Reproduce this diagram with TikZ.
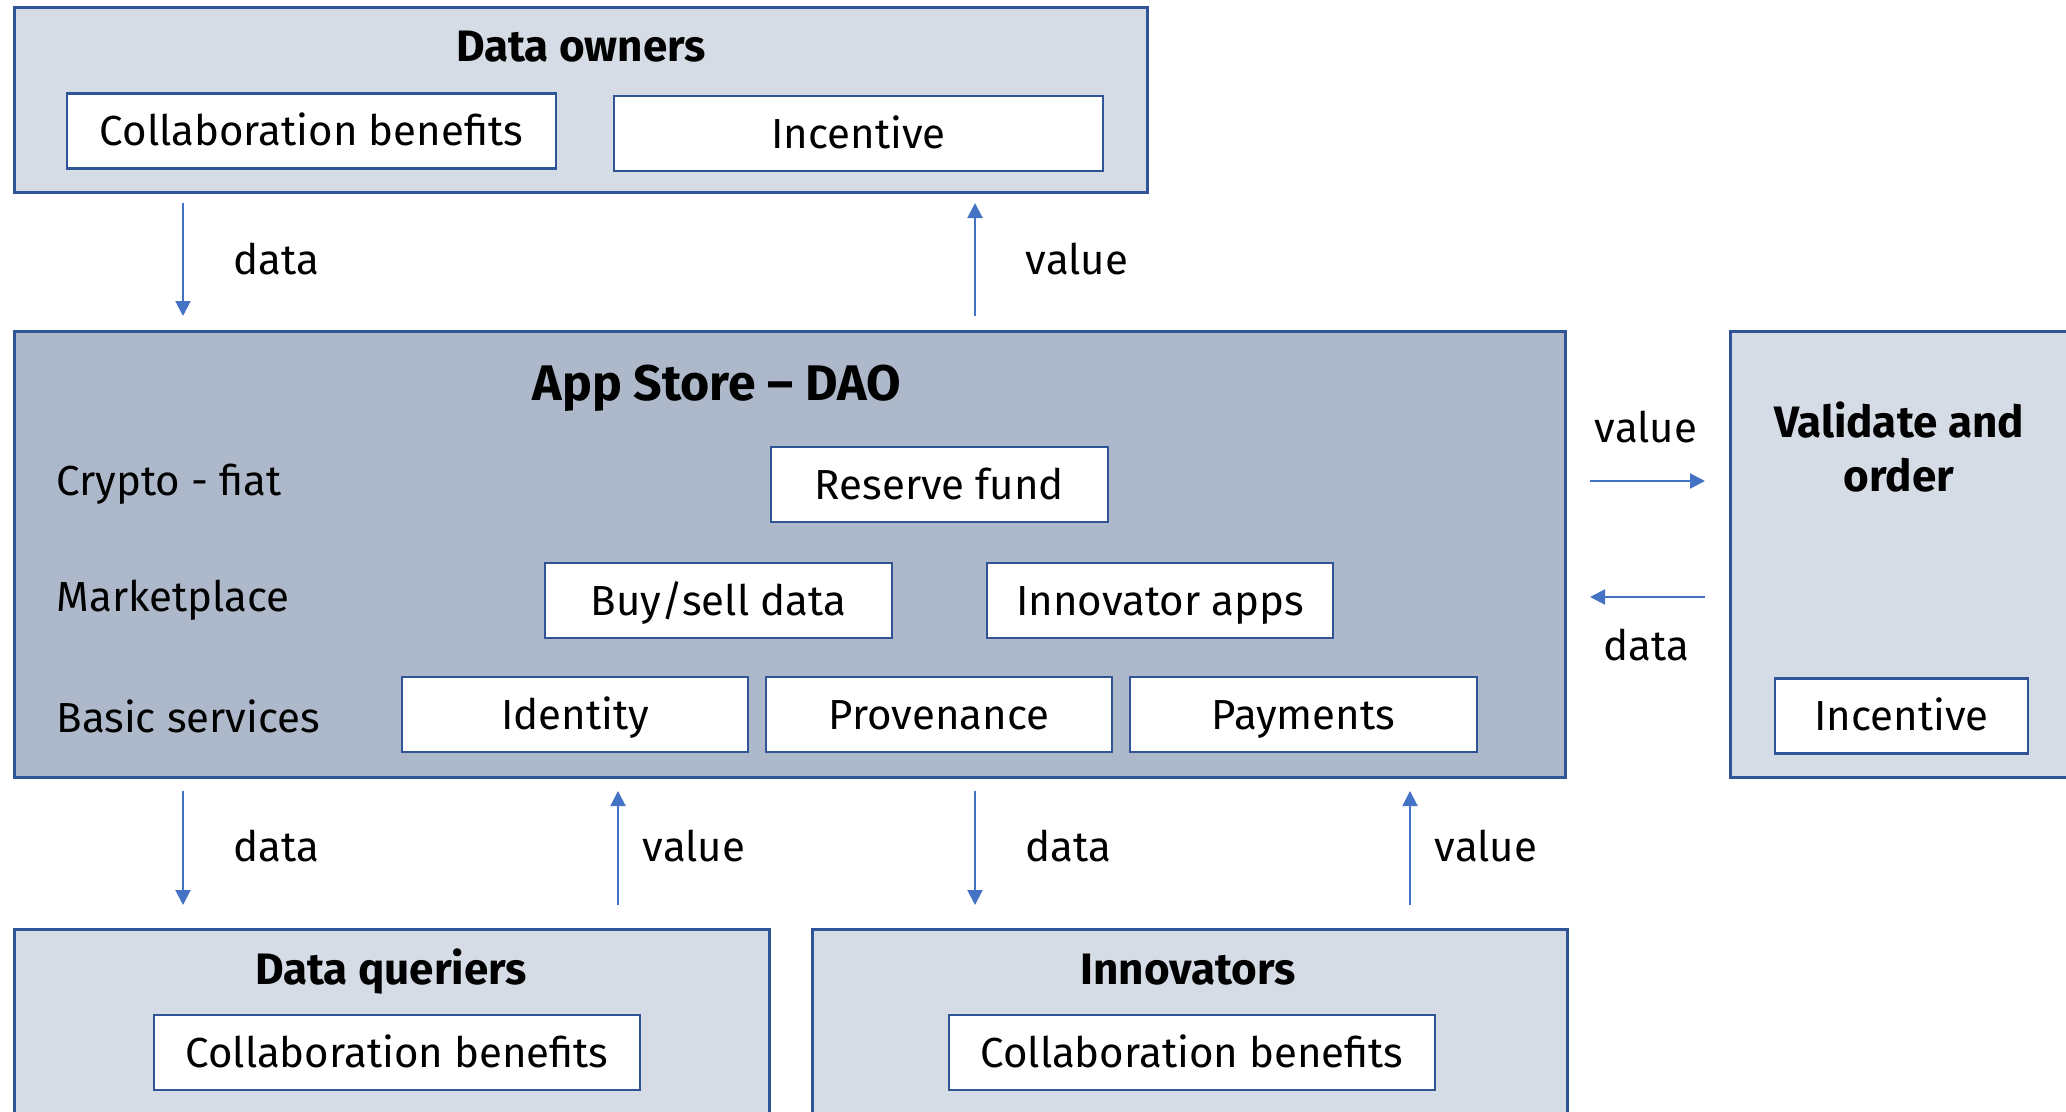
\documentclass[tikz,border=0pt]{standalone}
\usepackage{fontspec}
\setmainfont{Fira Sans}
\usetikzlibrary{arrows.meta}
\definecolor{paleblue}{HTML}{D6DCE5}
\definecolor{greyblue}{HTML}{ADB9CA}
\definecolor{edgeblue}{HTML}{2F5597}
\definecolor{arrowblue}{HTML}{4472C4}
\tikzset{
  group/.style={draw=edgeblue, line width=3pt, fill=paleblue, rectangle, inner sep=0pt},
  hub/.style={group, fill=greyblue},
  item/.style={draw=edgeblue, line width=2.5pt, fill=white, rectangle, inner sep=0pt,
    minimum height=75pt, text height=34pt, text depth=5pt,
    font=\fontsize{42}{50}\selectfont},
  title/.style={font=\fontsize{44}{54}\selectfont\bfseries, align=center},
  plain/.style={font=\fontsize{42}{50}\selectfont, text height=34pt, text depth=5pt},
  flow/.style={draw=arrowblue, line width=2pt, -{Triangle[length=15pt,width=15pt]}}
}
\begin{document}
\begin{tikzpicture}[x=1pt,y=-1pt]
\useasboundingbox (0,0) rectangle (2066,1111);

% outer groups
\node[group, minimum width=1133pt, minimum height=185pt] (owners) at (580.5,99.5) {};
\node[hub, minimum width=1551pt, minimum height=446pt] (store) at (789.5,554) {};
\node[group, minimum width=360pt, minimum height=446pt] (validate) at (1910,554) {};
\node[group, minimum width=755pt, minimum height=201pt] (queriers) at (391.5,1029.5) {};
\node[group, minimum width=755pt, minimum height=201pt] (innovators) at (1189.5,1029.5) {};

% Data owners
\node[title] (ownersT) at (581,47) {Data owners};
\node[item, minimum width=489pt] (ownCollab) at (311.5,131) {Collaboration benefits};
\node[item, minimum width=489pt] (ownInc) at (858.5,133.5) {Incentive};

% App Store
\node[title, font=\fontsize{50}{60}\selectfont\bfseries] (storeT) at (717,388) {App Store – DAO};
\node[plain, anchor=west] (crypto) at (53,481) {Crypto - fiat};
\node[plain, anchor=west] (market) at (53,597) {Marketplace};
\node[plain, anchor=west] (basic) at (53,718) {Basic services};
\node[item, minimum width=337pt] (reserve) at (939.5,484.5) {Reserve fund};
\node[item, minimum width=347pt] (buysell) at (718.5,600.5) {Buy/sell data};
\node[item, minimum width=346pt] (innapps) at (1160,600.5) {Innovator apps};
\node[item, minimum width=346pt] (identity) at (575,714.5) {Identity};
\node[item, minimum width=346pt] (prov) at (939,714.5) {Provenance};
\node[item, minimum width=347pt] (pay) at (1303.5,714.5) {Payments};

% Validate and order
\node[title] (validT) at (1899,447) {Validate and\\order};
\node[item, minimum width=253pt] (valInc) at (1901.5,716) {Incentive};

% Data queriers and Innovators
\node[title] (queriersT) at (391,972) {Data queriers};
\node[item, minimum width=486pt] (qCollab) at (397,1052.5) {Collaboration benefits};
\node[title] (innovT) at (1188,970) {Innovators};
\node[item, minimum width=486pt] (iCollab) at (1192,1052.5) {Collaboration benefits};

% connector end points
\coordinate (a1s) at (183,203);  \coordinate (a1e) at (183,316);
\coordinate (a2s) at (975,316);  \coordinate (a2e) at (975,203);
\coordinate (a3s) at (1590,481); \coordinate (a3e) at (1705,481);
\coordinate (a4s) at (1705,597); \coordinate (a4e) at (1590,597);
\coordinate (a5s) at (183,791);  \coordinate (a5e) at (183,905);
\coordinate (a6s) at (618,905);  \coordinate (a6e) at (618,791);
\coordinate (a7s) at (975,791);  \coordinate (a7e) at (975,905);
\coordinate (a8s) at (1410,905); \coordinate (a8e) at (1410,791);

\draw[flow] (a1s) -- (a1e);
\draw[flow] (a2s) -- (a2e);
\draw[flow] (a3s) -- (a3e);
\draw[flow] (a4s) -- (a4e);
\draw[flow] (a5s) -- (a5e);
\draw[flow] (a6s) -- (a6e);
\draw[flow] (a7s) -- (a7e);
\draw[flow] (a8s) -- (a8e);

\node[plain] (l1) at (276,260) {data};
\node[plain] (l2) at (1077,260) {value};
\node[plain] (l3) at (1646,428) {value};
\node[plain] (l4) at (1646,646) {data};
\node[plain] (l5) at (276,847) {data};
\node[plain] (l6) at (694,847) {value};
\node[plain] (l7) at (1068,847) {data};
\node[plain] (l8) at (1486,847) {value};
\end{tikzpicture}
\end{document}
